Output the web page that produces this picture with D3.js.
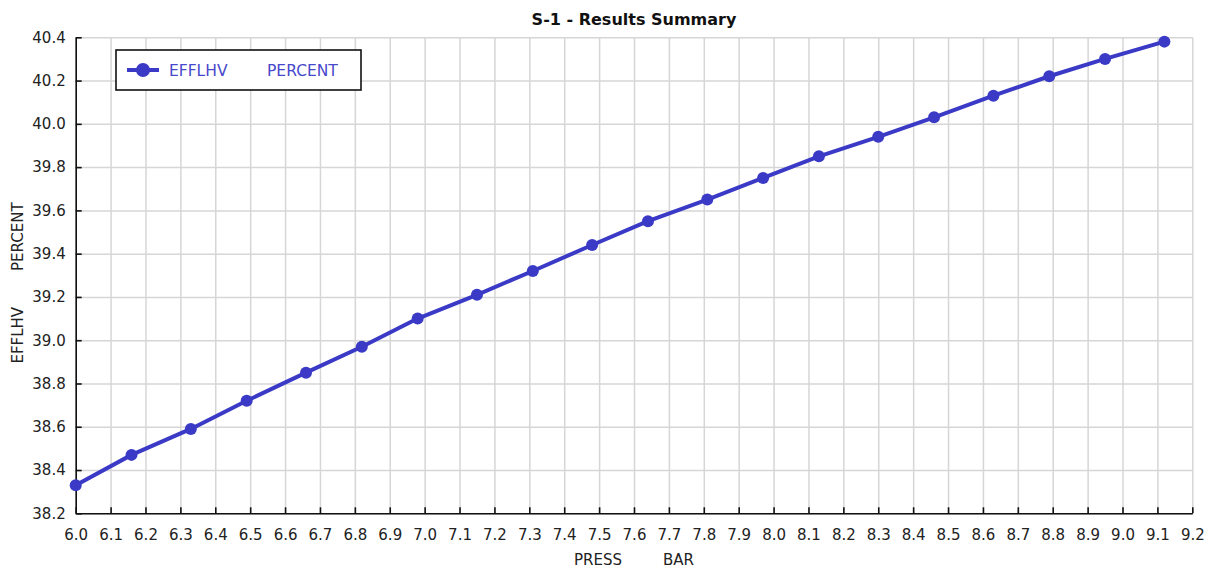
<!DOCTYPE html>
<html>
<head>
<meta charset="utf-8">
<script src="https://d3js.org/d3.v7.min.js"></script>
<style>
  body { margin: 0; background: #fff; }
  svg { display: block; font-family: "DejaVu Sans", sans-serif; }
  .grid line { stroke: #d6d6d6; stroke-width: 1.5; }
  .grid path { display: none; }
  .ax path, .ax line { stroke: #111; stroke-width: 1.6; }
  .ax text { font-size: 15px; fill: #222; font-family: "DejaVu Sans", sans-serif; }
</style>
</head>
<body>
<div id="chart"></div>
<script>
// data
const pressBar = [6.00, 6.16, 6.33, 6.49, 6.66, 6.82, 6.98, 7.15, 7.31, 7.48,
                  7.64, 7.81, 7.97, 8.13, 8.30, 8.46, 8.63, 8.79, 8.95, 9.12];
const efflhv = [38.33, 38.47, 38.59, 38.72, 38.85, 38.97, 39.10, 39.21, 39.32, 39.44,
                39.55, 39.65, 39.75, 39.85, 39.94, 40.03, 40.13, 40.22, 40.30, 40.38];
const xTicks = [6.0, 6.1, 6.2, 6.3, 6.4, 6.5, 6.6, 6.7, 6.8, 6.9, 7.0, 7.1, 7.2, 7.3, 7.4, 7.5, 7.6,
                7.7, 7.8, 7.9, 8.0, 8.1, 8.2, 8.3, 8.4, 8.5, 8.6, 8.7, 8.8, 8.9, 9.0, 9.1, 9.2];
const yTicks = [38.2, 38.4, 38.6, 38.8, 39.0, 39.2, 39.4, 39.6, 39.8, 40.0, 40.2, 40.4];
const title = "S-1 - Results Summary";
const seriesName = "EFFLHV";
const seriesUnit = "PERCENT";
const xName = "PRESS";
const xUnit = "BAR";

const width = 1207, height = 569;
const margin = {top: 37.3, right: 14.7, bottom: 55.7, left: 75.7};
const blue = "#3a3ac6";

const points = pressBar.map(function(p, i) { return {x: p, y: efflhv[i]}; });

const x = d3.scaleLinear()
  .domain([xTicks[0], xTicks[xTicks.length - 1]])
  .range([margin.left, width - margin.right]);
const y = d3.scaleLinear()
  .domain([yTicks[0], yTicks[yTicks.length - 1]])
  .range([height - margin.bottom, margin.top]);

const svg = d3.select("#chart").append("svg")
  .attr("width", width)
  .attr("height", height);

// grid
svg.append("g")
  .attr("class", "grid")
  .attr("transform", "translate(0," + (height - margin.bottom) + ")")
  .call(d3.axisBottom(x).tickValues(xTicks).tickSize(-(height - margin.top - margin.bottom)).tickFormat(""));
svg.append("g")
  .attr("class", "grid")
  .attr("transform", "translate(" + margin.left + ",0)")
  .call(d3.axisLeft(y).tickValues(yTicks).tickSize(-(width - margin.left - margin.right)).tickFormat(""));

// axes, ticks pointing inward
svg.append("g")
  .attr("class", "ax")
  .attr("transform", "translate(0," + (height - margin.bottom) + ")")
  .call(d3.axisBottom(x).tickValues(xTicks).tickSizeInner(-6).tickSizeOuter(0).tickPadding(16).tickFormat(d3.format(".1f")));
svg.append("g")
  .attr("class", "ax")
  .attr("transform", "translate(" + margin.left + ",0)")
  .call(d3.axisLeft(y).tickValues(yTicks).tickSizeInner(-6).tickSizeOuter(0).tickPadding(10).tickFormat(d3.format(".1f")));

// line + markers
const line = d3.line()
  .x(function(d) { return x(d.x); })
  .y(function(d) { return y(d.y); });

svg.append("path")
  .datum(points)
  .attr("d", line)
  .attr("fill", "none")
  .attr("stroke", blue)
  .attr("stroke-width", 4)
  .attr("stroke-linejoin", "round");

svg.selectAll("circle.pt")
  .data(points)
  .enter()
  .append("circle")
  .attr("class", "pt")
  .attr("cx", function(d) { return x(d.x); })
  .attr("cy", function(d) { return y(d.y); })
  .attr("r", 6)
  .attr("fill", blue);

// title
svg.append("text")
  .attr("x", (margin.left + width - margin.right) / 2)
  .attr("y", 25)
  .attr("text-anchor", "middle")
  .style("font-size", "16px")
  .style("font-weight", "bold")
  .attr("fill", "#111")
  .text(title);

// x axis label
const xl = svg.append("text")
  .attr("x", (margin.left + width - margin.right) / 2)
  .attr("y", 565)
  .attr("text-anchor", "middle")
  .style("font-size", "15px")
  .attr("fill", "#222");
xl.append("tspan").text(xName);
xl.append("tspan").attr("dx", 41).text(xUnit);

// y axis label
const yl = svg.append("text")
  .attr("transform", "translate(23,283) rotate(-90)")
  .attr("text-anchor", "middle")
  .style("font-size", "15px")
  .attr("fill", "#222");
yl.append("tspan").text(seriesName);
yl.append("tspan").attr("dx", 36).text(seriesUnit);

// legend
const lg = svg.append("g").attr("transform", "translate(116,50)");
lg.append("rect")
  .attr("width", 245)
  .attr("height", 40)
  .attr("fill", "#fff")
  .attr("stroke", "#111")
  .attr("stroke-width", 1.6);
lg.append("line")
  .attr("x1", 11).attr("x2", 43)
  .attr("y1", 20).attr("y2", 20)
  .attr("stroke", blue)
  .attr("stroke-width", 4);
lg.append("circle")
  .attr("cx", 27).attr("cy", 20).attr("r", 7)
  .attr("fill", blue);
lg.append("text")
  .attr("x", 53).attr("y", 26)
  .style("font-size", "15.5px")
  .attr("fill", "#4848cc")
  .text(seriesName);
lg.append("text")
  .attr("x", 151).attr("y", 26)
  .style("font-size", "15.5px")
  .attr("fill", "#4848cc")
  .text(seriesUnit);
</script>
</body>
</html>
